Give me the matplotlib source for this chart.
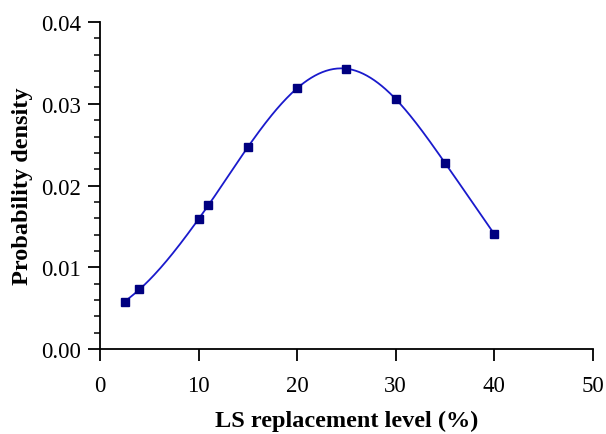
import numpy as np
import matplotlib.pyplot as plt

# data
ls_level = [2.5, 4, 10, 11, 15, 20, 25, 30, 35, 40]
density = [0.0058, 0.0073, 0.0159, 0.0176, 0.0247, 0.0319, 0.0343, 0.0306, 0.0228, 0.0141]

x_ticks = [0, 10, 20, 30, 40, 50]
y_ticks = [0.00, 0.01, 0.02, 0.03, 0.04]


def natural_spline(x, y, xs):
    # plain natural cubic spline, just for drawing the smooth line
    x = np.asarray(x, float)
    y = np.asarray(y, float)
    n = len(x)
    h = np.diff(x)
    A = np.zeros((n, n))
    b = np.zeros(n)
    A[0, 0] = 1
    A[-1, -1] = 1
    for i in range(1, n - 1):
        A[i, i - 1] = h[i - 1]
        A[i, i] = 2 * (h[i - 1] + h[i])
        A[i, i + 1] = h[i]
        b[i] = 3 * ((y[i + 1] - y[i]) / h[i] - (y[i] - y[i - 1]) / h[i - 1])
    c = np.linalg.solve(A, b)
    out = np.empty_like(xs)
    for k, xv in enumerate(xs):
        i = min(np.searchsorted(x, xv) - 1, n - 2)
        i = max(i, 0)
        dx = xv - x[i]
        bi = (y[i + 1] - y[i]) / h[i] - h[i] * (2 * c[i] + c[i + 1]) / 3
        di = (c[i + 1] - c[i]) / (3 * h[i])
        out[k] = y[i] + bi * dx + c[i] * dx**2 + di * dx**3
    return out


plt.rcParams['font.family'] = ['Liberation Serif', 'DejaVu Serif']

fig = plt.figure(figsize=(6.06, 4.35), dpi=100)
ax = fig.add_axes([0.165, 0.195, 0.813, 0.752])

xs = np.linspace(ls_level[0], ls_level[-1], 300)
ax.plot(xs, natural_spline(ls_level, density, xs), color='#1a1acc', lw=1.3, zorder=2)
ax.plot(ls_level, density, 's', color='#000080', ms=5.5, zorder=3)

ax.set_xlim(0, 50)
ax.set_ylim(0, 0.04)
ax.set_xticks(x_ticks)
ax.set_yticks(y_ticks)
ax.set_yticklabels([f'{v:.2f}' for v in y_ticks])
ax.set_yticks(np.arange(0, 0.0401, 0.002), minor=True)

for s in ['top', 'right']:
    ax.spines[s].set_visible(False)
for s in ['left', 'bottom']:
    ax.spines[s].set_linewidth(1.3)

ax.tick_params(axis='both', which='major', direction='out', length=8.5, width=1.3, labelsize=16.5)
ax.tick_params(axis='y', which='minor', direction='out', length=4.5, width=1.1)
ax.tick_params(axis='x', pad=10)
ax.tick_params(axis='y', pad=5)

ax.set_xlabel('LS replacement level (%)', fontsize=17.5, fontweight='bold', labelpad=10)
ax.set_ylabel('Probability density', fontsize=17.5, fontweight='bold', labelpad=6)

fig.savefig('out.png', dpi=100)
